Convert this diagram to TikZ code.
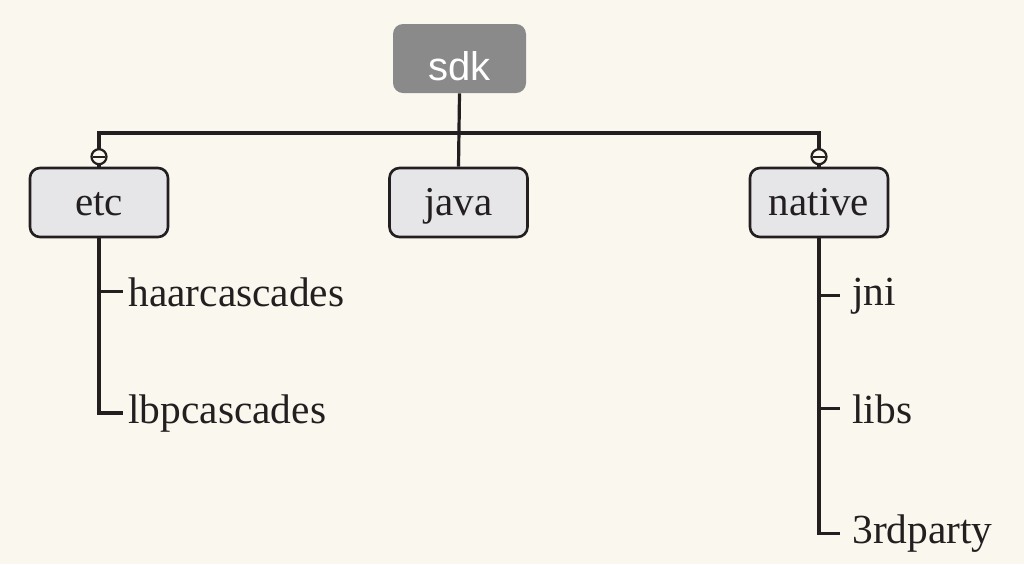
\documentclass[tikz,border=0pt]{standalone}
\usepackage{fontspec}
\setmainfont{Liberation Serif}
\newfontfamily\sdkfont{Liberation Sans}
\definecolor{bgcol}{RGB}{250,247,238}
\definecolor{boxfill}{RGB}{230,230,232}
\definecolor{rootfill}{RGB}{138,138,138}
\definecolor{ink}{RGB}{35,31,32}
\tikzset{
  dirbox/.style={draw=ink, line width=1.3pt, fill=boxfill, rounded corners=5pt,
    minimum width=69pt, minimum height=34.5pt, inner sep=0pt,
    text height=15pt, text depth=2.5pt, font=\fontsize{20.5}{24}\selectfont, text=ink},
  rootbox/.style={fill=rootfill, rounded corners=5pt, minimum width=66.5pt, minimum height=34.5pt,
    inner sep=0pt, text height=21.5pt, text depth=0pt, font=\sdkfont\fontsize{20}{24}\selectfont, text=white},
  leafa/.style={anchor=base west, inner xsep=2.5pt, inner ysep=0pt, font=\fontsize{20.7}{24}\selectfont, text=ink},
  leafb/.style={leafa, inner xsep=6pt},
  conn/.style={draw=ink, line width=1.6pt},
  knob/.style={draw=ink, line width=1.1pt, fill=bgcol, circle, minimum size=7.5pt, inner sep=0pt,
    path picture={\draw[ink, line width=1pt] ([xshift=-3pt]path picture bounding box.center) -- ([xshift=3pt]path picture bounding box.center);}}
}
\begin{document}
\begin{tikzpicture}[x=0.5pt,y=-0.5pt]
\fill[bgcol] (0,0) rectangle (1024,564);
\useasboundingbox (0,0) rectangle (1024,564);

\node[rootbox] (sdk) at (459.5,58.5) {sdk};
\node[dirbox] (etc) at (99,202.5) {etc};
\node[dirbox] (java) at (458.5,202.5) {java};
\node[dirbox] (native) at (819,202.5) {native};

\node[leafa] (haar) at (123,306) {haarcascades};
\node[leafa] (lbp) at (123,423) {lbpcascades};
\node[leafb] (jni) at (840,305) {jni};
\node[leafb] (libs) at (840,423) {libs};
\node[leafb] (third) at (840,543) {3rdparty};

\coordinate (bus) at (0,133);
\draw[conn] (sdk.south) -- (java.north);
\draw[conn] (etc.north) -- (etc.north |- bus) -- (native.north |- bus) -- (native.north);

\draw[conn] (etc.south) |- (lbp.west);
\draw[conn] (etc.south |- haar.west) -- (haar.west);
\draw[conn] (native.south) |- (third.west);
\draw[conn] (native.south |- jni.west) -- (jni.west);
\draw[conn] (native.south |- libs.west) -- (libs.west);

\node[knob] (k1) at ([yshift=5pt]etc.north) {};
\node[knob] (k2) at ([yshift=5pt]native.north) {};
\end{tikzpicture}
\end{document}
